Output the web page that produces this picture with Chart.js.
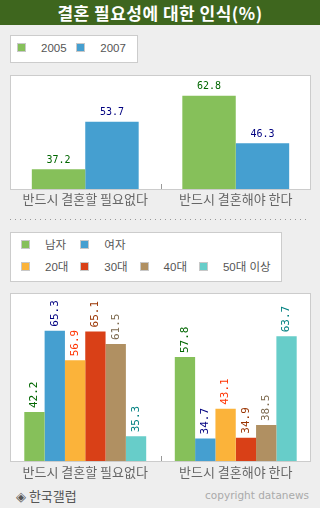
<!DOCTYPE html>
<html>
<head>
<meta charset="utf-8">
<script src="https://cdn.jsdelivr.net/npm/chart.js@4"></script>
<style>
  body { margin: 0; background: #eeeeee; font-family: 'Noto Sans CJK KR', sans-serif; }
  #page { position: relative; width: 320px; height: 508px; overflow: hidden; background: #eeeeee; }
  #title { position: absolute; left: 0; top: 0; width: 320px; height: 25px; background: #3e661e;
           color: #fff; font-weight: bold; font-size: 17px; line-height: 25px; text-align: center; letter-spacing: 0.5px; }
  .legend { position: absolute; left: 10px; background: #fff; border: 1px solid #cccccc; box-sizing: border-box; }
  .row { position: absolute; left: 0; height: 14px; white-space: nowrap; }
  .item { position: absolute; top: 0; height: 14px; font-size: 11.5px; line-height: 14px; color: #555;
          font-family: 'Liberation Sans', 'Noto Sans CJK KR', sans-serif; }
  .item i { position: absolute; left: 0; top: 2px; width: 9px; height: 9px; box-sizing: border-box; border: 1px solid #c8c8c8; }
  .item span { position: absolute; left: 24px; top: 0; }
  #dots { position: absolute; left: 10px; top: 219px; width: 300px; height: 1px;
          background: repeating-linear-gradient(to right, #999 0 1px, transparent 1px 5px); }
  canvas { position: absolute; }
  #source { position: absolute; left: 16px; top: 486px; font-size: 13px; color: #555; }
  #copy { position: absolute; right: 11px; top: 489px; font-size: 10.5px; color: #aaa; font-family: 'DejaVu Sans', sans-serif; }
</style>
</head>
<body>
<div id="page">
  <div id="title">결혼 필요성에 대한 인식(%)</div>
  <div class="legend" id="legend1" style="top:35px;width:128px;height:28px;"></div>
  <canvas id="chart1" width="301" height="135" style="left:10px;top:75px;"></canvas>
  <div id="dots"></div>
  <div class="legend" id="legend2" style="top:232px;width:272px;height:50px;"></div>
  <canvas id="chart2" width="301" height="191" style="left:10px;top:293px;"></canvas>
  <div id="source">◈ 한국갤럽</div>
  <div id="copy">copyright datanews</div>
</div>
<script>
// categories
const categories = ['반드시 결혼할 필요없다', '반드시 결혼해야 한다'];

// chart 1: by year
const years = ['2005', '2007'];
const values2005 = [37.2, 62.8];
const values2007 = [53.7, 46.3];

// chart 2: by sex and age
const groups = ['남자', '여자', '20대', '30대', '40대', '50대 이상'];
const male = [42.2, 57.8];
const female = [65.3, 34.7];
const age20 = [56.9, 43.1];
const age30 = [65.1, 34.9];
const age40 = [61.5, 38.5];
const age50 = [35.3, 63.7];

// styles
const barColors = ['#86c05a', '#459fd0', '#fbb33a', '#d94017', '#b09062', '#67cdc9'];
const labelColors = ['#006600', '#000080', '#ff3300', '#993300', '#7d6a4f', '#008080'];

// html legends
function buildLegend(id, rows, startX) {
    const box = document.getElementById(id);
    let idx = 0;
    rows.forEach((names, r) => {
        const row = document.createElement('div');
        row.className = 'row';
        row.style.top = (r === 0 ? 5 : 27) + 'px';
        names.forEach((name, k) => {
            const item = document.createElement('div');
            item.className = 'item';
            item.style.left = (startX + k * 59.3) + 'px';
            item.innerHTML = '<i style="background:' + barColors[idx] + '"></i><span>' + name + '</span>';
            row.appendChild(item);
            idx++;
        });
        box.appendChild(row);
    });
}
buildLegend('legend1', [years], 6);
buildLegend('legend2', [groups.slice(0, 2), groups.slice(2)], 10);

// white plot area, grey box, middle tick
const boxPlugin = {
    id: 'box',
    beforeDraw(chart) {
        const a = chart.chartArea, c = chart.ctx;
        c.save();
        c.fillStyle = '#ffffff';
        c.fillRect(a.left, a.top, a.right - a.left, a.bottom - a.top);
        c.restore();
    },
    afterDraw(chart) {
        const a = chart.chartArea, c = chart.ctx, x = chart.scales.x;
        c.save();
        c.strokeStyle = '#cccccc';
        c.lineWidth = 1;
        c.strokeRect(a.left + 0.5, a.top + 0.5, a.right - a.left - 1, a.bottom - a.top - 1);
        const mid = Math.round((x.getPixelForValue(0) + x.getPixelForValue(1)) / 2) + 0.5;
        c.strokeStyle = '#999999';
        c.beginPath();
        c.moveTo(mid, a.bottom - 6);
        c.lineTo(mid, a.bottom - 1);
        c.stroke();
        c.restore();
    }
};

// value labels above bars
const valuePlugin = {
    id: 'values',
    afterDatasetsDraw(chart, args, opts) {
        const c = chart.ctx;
        c.save();
        c.font = opts.size + 'px "DejaVu Sans Mono", monospace';
        chart.data.datasets.forEach((ds, i) => {
            chart.getDatasetMeta(i).data.forEach((bar, j) => {
                const txt = ds.data[j].toFixed(1);
                c.fillStyle = labelColors[i];
                if (opts.rotate) {
                    c.save();
                    c.translate(bar.x, bar.y - 4);
                    c.rotate(-Math.PI / 2);
                    c.textAlign = 'left';
                    c.textBaseline = 'middle';
                    c.fillText(txt, 0, 0);
                    c.restore();
                } else {
                    c.textAlign = 'center';
                    c.textBaseline = 'bottom';
                    c.fillText(txt, bar.x, bar.y - 4);
                }
            });
        });
        c.restore();
    }
};

function baseOptions(min, max, axisHeight, pad, size, rotate) {
    return {
        responsive: false,
        animation: false,
        devicePixelRatio: 1,
        layout: { padding: 0 },
        plugins: {
            legend: { display: false },
            tooltip: { enabled: false },
            values: { size: size, rotate: rotate }
        },
        scales: {
            x: {
                grid: { display: false, drawTicks: false },
                border: { display: false },
                ticks: { color: '#666666', padding: pad, font: { family: 'Noto Sans CJK KR', size: 13 } },
                afterFit: (s) => { s.height = axisHeight; }
            },
            y: { display: false, min: min, max: max }
        }
    };
}

new Chart(document.getElementById('chart1'), {
    type: 'bar',
    data: {
        labels: categories,
        datasets: [values2005, values2007].map((d, i) => ({
            label: years[i], data: d, backgroundColor: barColors[i],
            categoryPercentage: 0.71, barPercentage: 1
        }))
    },
    options: baseOptions(30, 70, 20, 1, 10, false),
    plugins: [boxPlugin, valuePlugin]
});

new Chart(document.getElementById('chart2'), {
    type: 'bar',
    data: {
        labels: categories,
        datasets: [male, female, age20, age30, age40, age50].map((d, i) => ({
            label: groups[i], data: d, backgroundColor: barColors[i],
            categoryPercentage: 0.81, barPercentage: 1
        }))
    },
    options: baseOptions(28, 76, 22, 2, 11, true),
    plugins: [boxPlugin, valuePlugin]
});
</script>
</body>
</html>
